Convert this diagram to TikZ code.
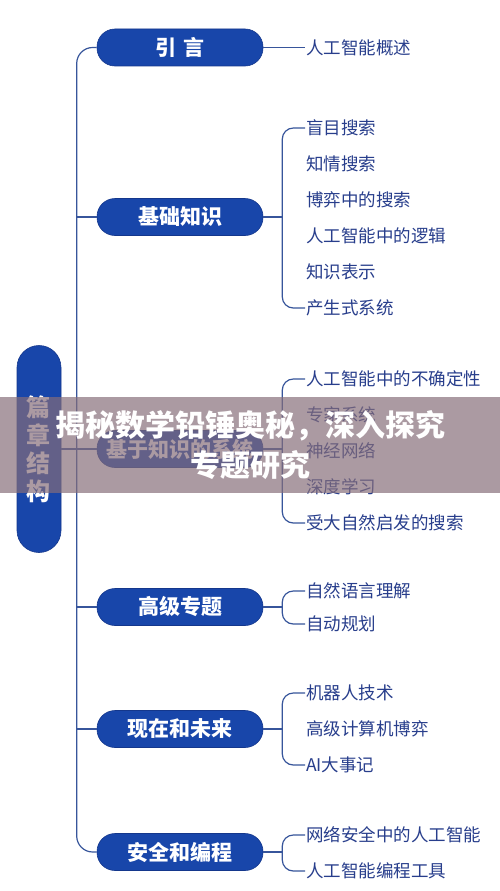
\documentclass[tikz,border=0pt]{standalone}
\usepackage{fontspec}
\setmainfont{Noto Sans CJK SC}
\usetikzlibrary{calc}
\definecolor{nodeblue}{RGB}{24,70,170}
\definecolor{nodeedge}{RGB}{20,55,140}
\definecolor{textblue}{RGB}{40,62,140}
\definecolor{lineblue}{RGB}{55,85,155}
\definecolor{bannercol}{RGB}{134,109,121}
\tikzset{
  mainbox/.style={fill=nodeblue, draw=nodeedge, line width=0.6pt, rounded corners=18pt,
    minimum width=166pt, minimum height=37pt, inner sep=0pt, text=white,
    font=\fontsize{21}{21}\selectfont\bfseries},
  leaf/.style={anchor=west, inner xsep=1pt, inner ysep=0pt, text=textblue,
    font=\fontsize{17.5}{17.5}\selectfont},
  conn/.style={draw=lineblue, line width=1.2pt},
}
\begin{document}
\begin{tikzpicture}[x=1pt,y=-1pt]
\useasboundingbox (0,0) rectangle (500,891);
\fill[white] (0,0) rectangle (500,891);

% main nodes
\node[mainbox] (intro) at (180,47.5) {引\hspace{7pt}言};
\node[mainbox] (basic) at (180,217) {基础知识};
\node[mainbox] (kbs) at (180,449) {基于知识的系统};
\node[mainbox] (adv) at (180,607) {高级专题};
\node[mainbox] (now) at (180,729) {现在和未来};
\node[mainbox] (sec) at (180,852) {安全和编程};

\node[fill=nodeblue, draw=nodeedge, line width=0.6pt, rounded corners=22pt,
  minimum width=44pt, minimum height=207pt, inner sep=0pt, text=white, align=center,
  font=\fontsize{24}{28}\selectfont\bfseries] (chap) at (39,449) {篇\\章\\结\\构};

% trunk
\coordinate (tb) at ($(sec.west)+(-20,0)$);
\draw[conn, rounded corners=16pt] (intro.west) -| (tb) -- (sec.west);
\draw[conn] (basic.west) -- ++(-20,0);
\draw[conn] (adv.west) -- ++(-20,0);
\draw[conn] (now.west) -- ++(-20,0);
\draw[conn] (chap.east) -- (kbs.west);

% leaves
\node[leaf] (i1) at (305,47.5) {人工智能概述};
\draw[conn] (intro.east) -- (i1.west);

\node[leaf] (b1) at (305,128) {盲目搜索};
\node[leaf] (b2) at (305,164) {知情搜索};
\node[leaf] (b3) at (305,200) {博弈中的搜索};
\node[leaf] (b4) at (305,236) {人工智能中的逻辑};
\node[leaf] (b5) at (305,272) {知识表示};
\node[leaf] (b6) at (305,308) {产生式系统};
\coordinate (bx) at ($(basic.east)+(19,0)$);
\draw[conn] (basic.east) -- (bx);
\draw[conn, rounded corners=11pt] (b1.west) -| (b6.west -| bx) -- (b6.west);

\node[leaf] (k1) at (305,379) {人工智能中的不确定性};
\node[leaf] (k2) at (305,415) {专家系统};
\node[leaf] (k3) at (305,451) {神经网络};
\node[leaf] (k4) at (305,487) {深度学习};
\node[leaf] (k5) at (305,523) {受大自然启发的搜索};
\coordinate (kx) at ($(kbs.east)+(19,0)$);
\draw[conn] (kbs.east) -- (kx);
\draw[conn, rounded corners=11pt] (k1.west) -| (k5.west -| kx) -- (k5.west);

\node[leaf] (a1) at (305,591) {自然语言理解};
\node[leaf] (a2) at (305,624) {自动规划};
\coordinate (ax) at ($(adv.east)+(19,0)$);
\draw[conn] (adv.east) -- (ax);
\draw[conn, rounded corners=11pt] (a1.west) -| (a2.west -| ax) -- (a2.west);

\node[leaf] (n1) at (305,693) {机器人技术};
\node[leaf] (n2) at (305,729) {高级计算机博弈};
\node[leaf] (n3) at (305,765) {AI大事记};
\coordinate (nx) at ($(now.east)+(19,0)$);
\draw[conn] (now.east) -- (nx);
\draw[conn, rounded corners=11pt] (n1.west) -| (n3.west -| nx) -- (n3.west);

\node[leaf] (s1) at (305,835) {网络安全中的人工智能};
\node[leaf] (s2) at (305,871) {人工智能编程工具};
\coordinate (sx) at ($(sec.east)+(19,0)$);
\draw[conn] (sec.east) -- (sx);
\draw[conn, rounded corners=11pt] (s1.west) -| (s2.west -| sx) -- (s2.west);

% banner overlay
\fill[bannercol, opacity=0.69] (0,397) rectangle (500,493);
\node[text=white, align=center, inner sep=0pt,
  font=\fontsize{30}{40}\selectfont\bfseries] (banner) at (250,445)
  {揭秘数学铅锤奥秘，深入探究\\专题研究};
\end{tikzpicture}
\end{document}
